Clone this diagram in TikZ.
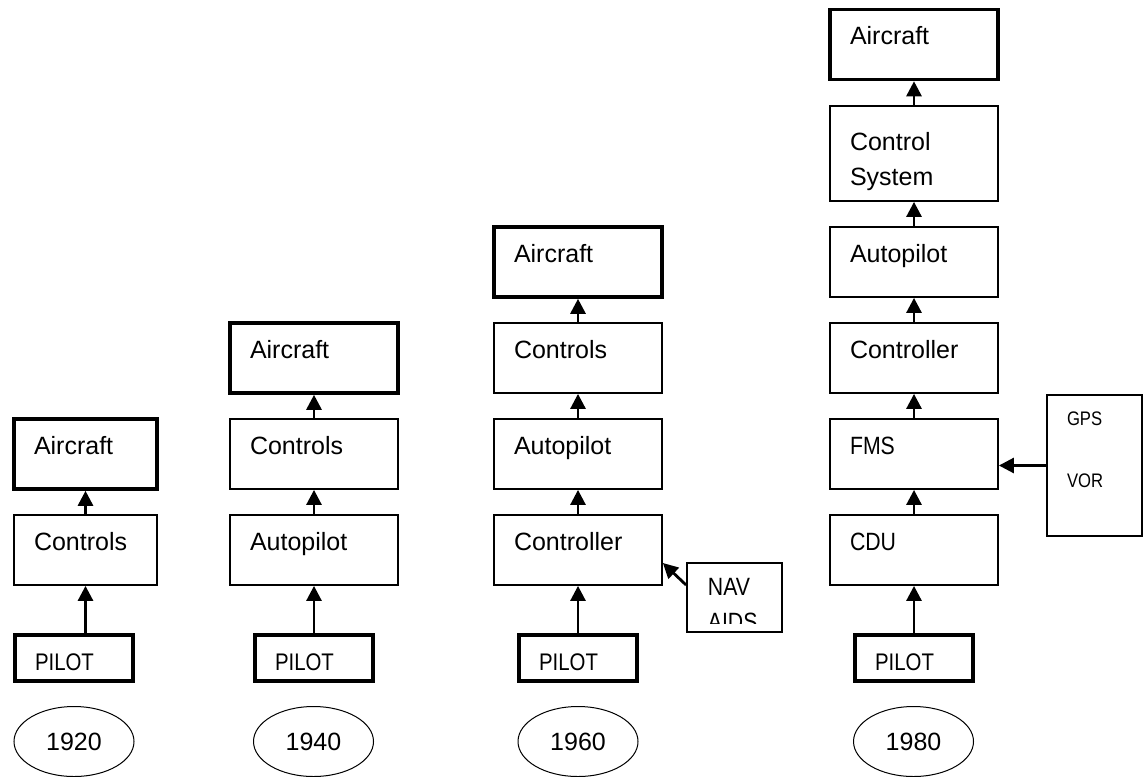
\documentclass[tikz,border=0pt]{standalone}
\usepackage{fontspec}
\setmainfont{Liberation Sans}
\newfontfamily\capsfont[FakeStretch=0.85]{Liberation Sans}
\usetikzlibrary{arrows.meta, shapes.geometric, positioning}
\tikzset{
	block/.style={rectangle, draw, line width=0.9pt, text width=64pt, inner xsep=10pt,
		minimum height=35pt, align=left, text height=9pt, text depth=9pt,
		font=\fontsize{12.5}{17.5}\selectfont},
	craft/.style={block, line width=1.8pt},
	pilot/.style={rectangle, draw, line width=1.8pt, text width=39pt, inner xsep=10pt,
		inner ysep=2pt, minimum height=23pt, align=left, text height=12pt, text depth=0pt,
		font=\capsfont\fontsize{12}{14}\selectfont},
	year/.style={ellipse, draw, line width=0.5pt, minimum width=60pt, minimum height=35pt,
		inner sep=0pt, font=\fontsize{12.5}{15}\selectfont},
	aidbox/.style={rectangle, draw, line width=0.9pt, minimum width=47.5pt},
	aidtext/.style={inner sep=0pt, minimum width=0pt, minimum height=0pt, text width=27.5pt,
		align=left, font=\capsfont\fontsize{12.5}{17.5}\selectfont},
	line/.style={draw, line width=1.4pt, -{Triangle[length=7.5pt, width=7.5pt]}}
}

\begin{document}
\begin{tikzpicture}[x=0.5pt, y=-0.5pt]
	\useasboundingbox (0,0) rectangle (1144,776);

	% 1920
	\node[block, text width=51.5pt] (B-1-1) at (85.5,550) {Controls};
	\node[craft, text width=51.5pt] (A-1) at (85.5,454) {Aircraft};
	\node[pilot] (P-1) at (74,658) {PILOT};
	\node[year] (Y-1) at (74,741.5) {1920};

	% 1940
	\node[block] (B-2-1) at (314,550) {Autopilot};
	\node[block] (B-2-2) at (314,454) {Controls};
	\node[craft] (A-2) at (314,358) {Aircraft};
	\node[pilot] (P-2) at (314,658) {PILOT};
	\node[year] (Y-2) at (313.5,741.5) {1940};

	% 1960
	\node[block] (B-3-1) at (578,550) {Controller};
	\node[block] (B-3-2) at (578,454) {Autopilot};
	\node[block] (B-3-3) at (578,358) {Controls};
	\node[craft] (A-3) at (578,262) {Aircraft};
	\node[pilot] (P-3) at (578,658) {PILOT};
	\node[year] (Y-3) at (578,741.5) {1960};
	\node[aidbox, minimum height=34.5pt, path picture={
		\clip ([yshift=4.5pt]path picture bounding box.south west) rectangle (path picture bounding box.north east);
		\node[aidtext, anchor=base west] at ([xshift=10pt, yshift=-16pt]path picture bounding box.north west) {NAV\\AIDS};
	}] (nav) at (734.5,597.5) {};

	% 1980
	\node[block] (B-4-1) at (914,550) {\capsfont CDU};
	\node[block] (B-4-2) at (914,454) {\capsfont FMS};
	\node[block] (B-4-3) at (914,358) {Controller};
	\node[block] (B-4-4) at (914,262) {Autopilot};
	\node[block, minimum height=47.5pt, text depth=12.5pt] (B-4-5) at (914,153.5) {Control\\System};
	\node[craft] (A-4) at (914,44.5) {Aircraft};
	\node[pilot] (P-4) at (914,658) {PILOT};
	\node[year] (Y-4) at (913.5,741.5) {1980};
	\node[aidbox, text width=27.5pt, inner xsep=10pt, minimum height=70.5pt, align=left,
		text height=7pt, text depth=47.5pt, font=\capsfont\fontsize{9.8}{31}\selectfont]
		(gps) at (1094.5,465.5) {GPS\\VOR};

	% Connections
	\foreach \a/\b in {P-1/B-1-1, B-1-1/A-1,
		P-2/B-2-1, B-2-1/B-2-2, B-2-2/A-2,
		P-3/B-3-1, B-3-1/B-3-2, B-3-2/B-3-3, B-3-3/A-3,
		P-4/B-4-1, B-4-1/B-4-2, B-4-2/B-4-3, B-4-3/B-4-4, B-4-4/B-4-5, B-4-5/A-4}
	\draw[line] (\a.north -| \b) -- (\b.south);
	\draw[line] ([yshift=6.25pt]nav.west) -- ([yshift=-6.5pt]B-3-1.east);
	\draw[line] (gps.west) -- (gps.west -| B-4-2.east);
\end{tikzpicture}
\end{document}
